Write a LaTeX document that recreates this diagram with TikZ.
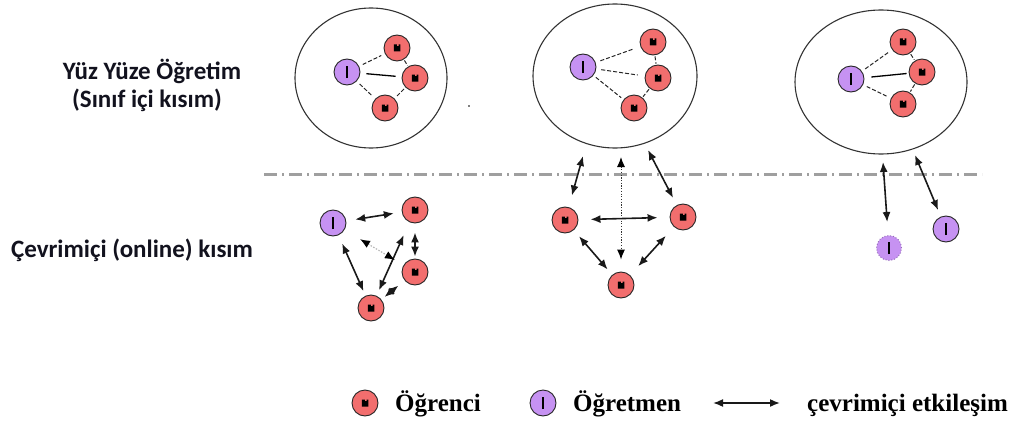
\documentclass[tikz,border=0pt]{standalone}
\usepackage{fontspec}
\setmainfont{Liberation Serif}
\newfontfamily\calfont{Carlito}
\usetikzlibrary{shapes.geometric,arrows.meta}
\definecolor{stured}{RGB}{242,110,110}
\definecolor{tchpurple}{RGB}{198,146,242}
\definecolor{lblcol}{RGB}{18,18,30}
\begin{document}
\begin{tikzpicture}[x=1pt,y=-1pt,
  stu/.style={circle,draw=black!85,line width=0.9pt,fill=stured,minimum size=26pt,inner sep=0pt,
    path picture={\fill[black,solid] ([shift={(-3.2pt,-3.5pt)}]path picture bounding box.center)
      -- ++(6.5pt,0pt) -- ++(0pt,7pt) -- ++(-1.8pt,0pt) -- ++(0pt,-1.6pt) -- ++(-1.7pt,0pt)
      -- ++(0pt,1.6pt) -- ++(-3pt,0pt) -- cycle;}},
  tch/.style={circle,draw=black!85,line width=0.9pt,fill=tchpurple,minimum size=26pt,inner sep=0pt,
    path picture={\draw[black,solid,line width=1.7pt] ([yshift=-6pt]path picture bounding box.center)
      -- ([yshift=6pt]path picture bounding box.center);}},
  tchghost/.style={tch,draw=tchpurple!75!black,dotted,line width=1pt,minimum size=25pt},
  ecl/.style={ellipse,draw=black!80,line width=1.1pt,inner sep=0pt},
  dl/.style={draw=black!85,line width=1pt,dash pattern=on 4pt off 2pt,shorten <=4pt,shorten >=4pt},
  sl/.style={draw=black,line width=1.3pt,shorten <=6pt,shorten >=6pt},
  arr/.style={draw=black!90,line width=1.6pt,{Latex[length=10pt,width=8pt]}-{Latex[length=10pt,width=8pt]}},
  arrdot/.style={line width=1.2pt,dash pattern=on 1.5pt off 1.5pt,{Latex[length=10pt,width=8pt,color=black]}-{Latex[length=10pt,width=8pt,color=black]}},
  lbl/.style={font=\calfont\bfseries\fontsize{25}{29}\selectfont,text=lblcol,inner sep=0pt,anchor=base},
  leg/.style={font=\bfseries\fontsize{25}{29}\selectfont,inner sep=0pt,anchor=base west}
]
\useasboundingbox (0,0) rectangle (1016,420);

% left labels
\node[lbl] (l1) at (152,79) {Yüz Yüze Öğretim};
\node[lbl] (l2) at (147,107) {(Sınıf içi kısım)};
\node[lbl] (l3) at (132,257) {Çevrimiçi (online) kısım};

% ellipse 1
\node[ecl,minimum width=152pt,minimum height=140pt] (e1) at (371,78) {};
\node[tch] (p1) at (347,72) {};
\node[stu] (s11) at (397,48) {};
\node[stu] (s12) at (415,78) {};
\node[stu] (s13) at (385,108) {};
\draw[dl] (p1) -- (s11);
\draw[sl] (p1) -- (s12);
\draw[dl] (p1) -- (s13);
\draw[dl,shorten <=1pt,shorten >=1pt] (s11) -- (s12);
\draw[dl,shorten <=2pt,shorten >=2pt] (s12) -- (s13);
\fill[gray] (468,105) rectangle (470,106.5);

% ellipse 2
\node[ecl,minimum width=164pt,minimum height=144pt] (e2) at (615,76) {};
\node[tch] (p2) at (583,67) {};
\node[stu] (s21) at (653,42) {};
\node[stu] (s22) at (658,78) {};
\node[stu] (s23) at (634,108) {};
\draw[dl,shorten <=5pt,shorten >=7pt] (p2) -- (s21);
\draw[dl,shorten <=5pt,shorten >=7pt] (p2) -- (s22);
\draw[dl,shorten <=3pt,shorten >=3pt] (p2) -- (s23);
\draw[dl,shorten <=1pt,shorten >=1pt] (s21) -- (s22);
\draw[dl,shorten <=1pt,shorten >=1pt] (s22) -- (s23);

% ellipse 3
\node[ecl,minimum width=172pt,minimum height=144pt] (e3) at (881,82) {};
\node[tch] (p3) at (851,79) {};
\node[stu] (s31) at (903,42) {};
\node[stu] (s32) at (922,72) {};
\node[stu] (s33) at (903,104) {};
\draw[dl,shorten <=4pt,shorten >=4pt] (p3) -- (s31);
\draw[sl,shorten <=7pt,shorten >=2pt] (p3) -- (s32);
\draw[dl,shorten <=4pt,shorten >=4pt] (p3) -- (s33);
\draw[dl,shorten <=1pt,shorten >=1pt] (s31) -- (s32);
\draw[dl,shorten <=1pt,shorten >=1pt] (s32) -- (s33);

% separator
\coordinate (sepa) at (264,174);
\coordinate (sepb) at (982,174);
\draw[gray!75,line width=3pt,dash pattern=on 13pt off 5pt on 2pt off 5pt] (sepa) -- (sepb);

% online part 1
\node[tch] (t1) at (333,223) {};
\node[stu] (a1) at (415,210) {};
\node[stu] (a2) at (415,272) {};
\node[stu] (a3) at (371,308) {};
\draw[arr,shorten <=9pt,shorten >=8pt] (t1) -- (a1);
\draw[arr,shorten <=9pt,shorten >=5pt] (t1) -- (a3);
\draw[arr,shorten <=14pt,shorten >=6pt] (a1) -- (a3);
\draw[arr,shorten <=9pt,shorten >=2pt] (a1) -- (a2);
\draw[arr,shorten <=8pt,shorten >=4pt] (a2) -- (a3);
\draw[arrdot,draw=gray!55,shorten <=18pt,shorten >=10pt] (t1) -- (a2);

% online part 2
\node[stu] (b1) at (565,220) {};
\node[stu] (b2) at (683,217) {};
\node[stu] (b3) at (621,285) {};
\coordinate (e2a) at (583,156);
\coordinate (e2b) at (648,150);
\coordinate (e2c) at (621,157);
\draw[arr,shorten >=12pt] (e2a) -- (b1);
\draw[arr,shorten >=8pt] (e2b) -- (b2);
\draw[arrdot,draw=black!80,line width=1pt,dash pattern=on 1.2pt off 1.5pt,shorten >=12pt] (e2c) -- (b3);
\draw[arr,shorten <=12pt,shorten >=12pt] (b1) -- (b2);
\draw[arr,shorten <=8pt,shorten >=7pt] (b1) -- (b3);
\draw[arr,shorten <=12pt,shorten >=12pt] (b2) -- (b3);

% online part 3
\coordinate (e3a) at (883,162);
\coordinate (e3b) at (915,155);
\node[tchghost] (c1) at (889,248) {};
\node[tch] (c2) at (946,229) {};
\draw[arr,shorten >=13pt] (e3a) -- (c1);
\draw[arr,shorten >=7pt] (e3b) -- (c2);

% legend
\node[stu] (ls) at (365,403) {};
\node[leg] (lst) at (395,411) {Öğrenci};
\node[tch] (lt) at (543,403) {};
\node[leg] (ltt) at (573,411) {Öğretmen};
\coordinate (la1) at (713,403);
\coordinate (la2) at (780,403);
\draw[arr] (la1) -- (la2);
\node[leg] (lat) at (807,411) {çevrimiçi etkileşim};
\end{tikzpicture}
\end{document}
